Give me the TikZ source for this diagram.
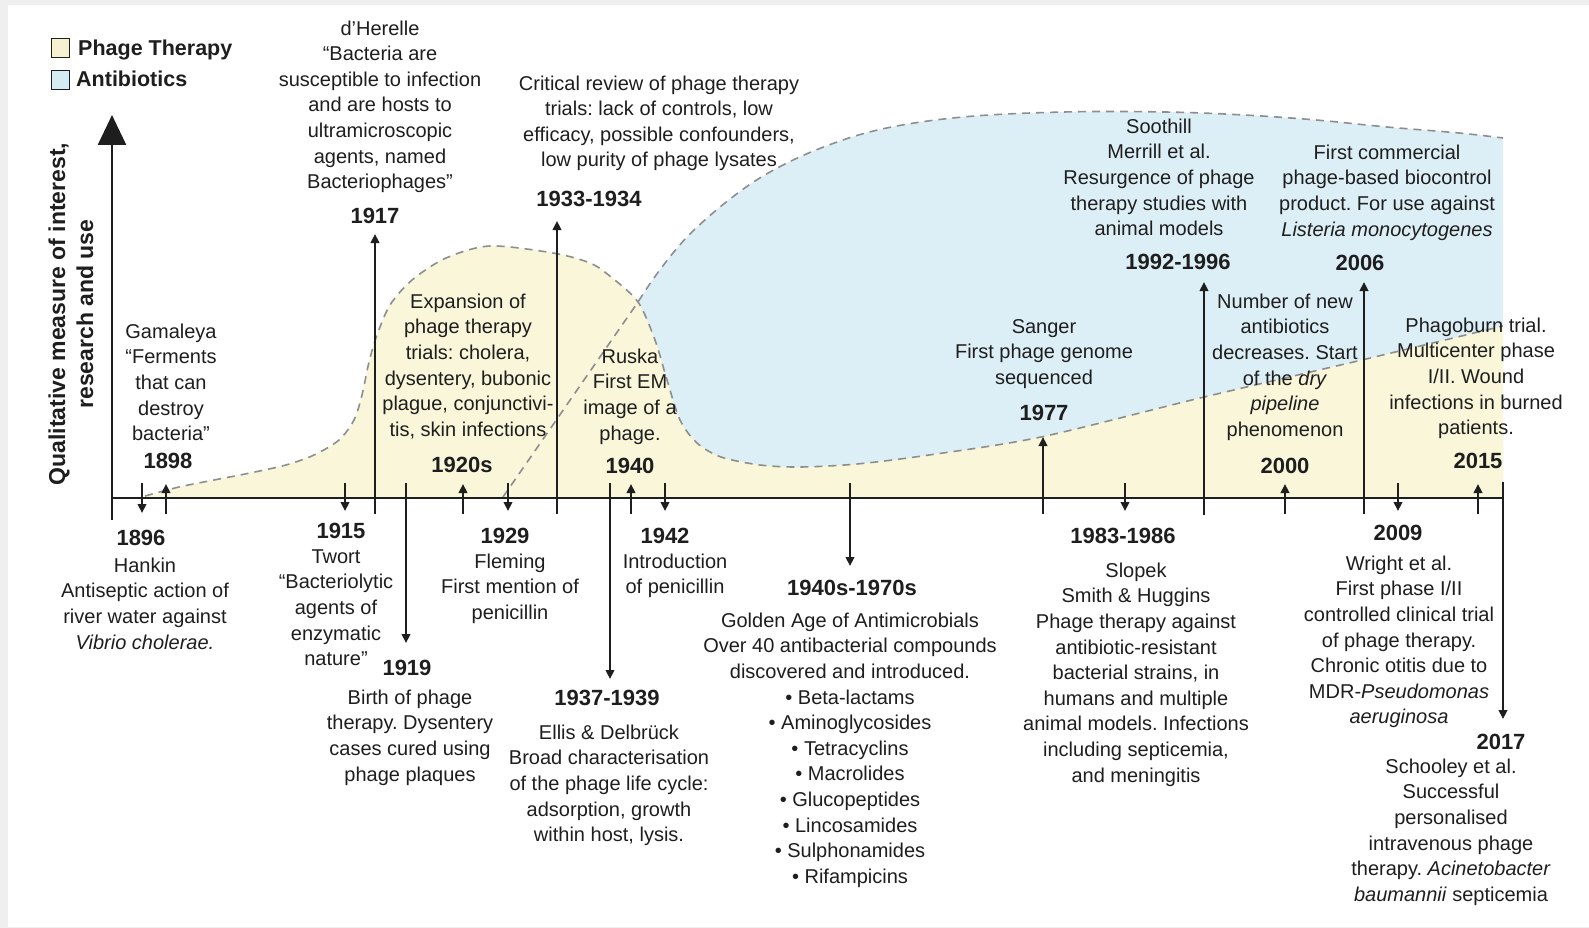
\documentclass[tikz,border=0pt]{standalone}
\usepackage{fontspec}
\setmainfont{Liberation Sans}
\usetikzlibrary{arrows.meta}
\frenchspacing
\definecolor{phagey}{HTML}{F9F6DA}
\definecolor{abblue}{HTML}{DDEFF6}
\definecolor{legy}{HTML}{F6F2CF}
\definecolor{legb}{HTML}{D6ECF5}
\definecolor{dashg}{HTML}{8E8E8E}
\definecolor{ink}{HTML}{1E1E1E}
\definecolor{frameg}{HTML}{EFEFEF}
\newcommand\bodyf{\fontsize{20}{25.6}\selectfont}
\newcommand\yearf{\fontsize{22}{26}\selectfont\bfseries}
\newcommand\legf{\fontsize{21.5}{26}\selectfont\bfseries}
\newcommand\fr{\rule{0pt}{18pt}}
\newcommand\abcurve{(638,302) (659,271) (689,235) (730,199) (770,172) (821,148) (882,129) (963,117) (1064,112) (1165,112) (1244,115) (1316,120) (1387,127) (1459,133) (1503,138)}
\newcommand\ptcurve{(145,496) (179,487) (214,480) (250,473) (286,465) (314,455) (339,440) (354,420) (362,395) (369,362) (377,335) (390,305) (412,280) (446,258) (490,246) (553,253) (590,263) (611,277) (638,302) (655,340) (667,380) (680,420) (697,443) (721,457) (760,465) (800,467) (857,464) (929,455) (1041,437) (1200,398) (1362,360)}
\begin{document}
\begin{tikzpicture}[x=1pt,y=-1pt,
  tx/.style={font=\bodyf, align=center, inner sep=0pt, anchor=north, text=ink},
  yr/.style={font=\yearf, inner sep=0pt, anchor=base, text=ink},
  sarr/.style={draw=ink, line width=2.6pt, -{Triangle[width=8.5pt,length=9pt]}},
  axline/.style={draw=ink, line width=2.6pt},
  dashl/.style={draw=dashg, line width=1.6pt, dash pattern=on 8pt off 6pt},
  legbox/.style={draw=ink, line width=1.6pt, minimum width=18pt, minimum height=19pt, inner sep=0pt}
  ]
\useasboundingbox (0,0) rectangle (1589,928);
\fill[frameg] (0,0) rectangle (1589,928);
\fill[white] (8,5) rectangle (1589,927);

% antibiotics area
\fill[abblue] (503,498) -- (638,302) -- plot[smooth, tension=0.6] coordinates {\abcurve} -- (1503,498) -- cycle;
% phage therapy area
\fill[phagey] (145,498) -- plot[smooth] coordinates {\ptcurve} -- (1503,326) -- (1503,498) -- cycle;
% outlines
\draw[dashl] plot[smooth] coordinates {\ptcurve} -- (1503,326);
\draw[dashl] (503,497) -- (638,302) -- plot[smooth, tension=0.6] coordinates {\abcurve};

% legend
\node[legbox, fill=legy] (lp) at (60.5,48) {};
\node[legbox, fill=legb] (la) at (60.5,80) {};
\node[font=\legf, anchor=base west, inner sep=0pt, text=ink] (lpt) at (78,56) {Phage Therapy};
\node[font=\legf, anchor=base west, inner sep=0pt, text=ink] (lat) at (76,87) {Antibiotics};

% axes
\coordinate (yb) at (112,520);
\coordinate (yt) at (112,115);
\draw[axline, -{Triangle[width=28pt,length=30pt]}] (yb) -- (yt);
\coordinate (xl) at (112,498);
\coordinate (xr) at (1503,498);
\draw[axline] (xl) -- (xr);
\node[font=\fontsize{23}{28}\selectfont\bfseries, align=center, rotate=90, inner sep=0pt, text=ink] (ylab) at (71,314) {Qualitative measure of interest,\\research and use};

% event arrows
\foreach \n/\x/\a/\b in {a1896/142/483/513, a1898/166/514/484, a1915/345/483/511, a1917/375/514/234,
  a1919/406/483/643, a1920/463/514/484, a1929/508/483/511, a1933/557/514/221, a1937/610/483/679,
  a1940/631/514/484, a1942/665/483/511, a1940s/850/483/566, a1977/1043/514/437, a1983/1125/483/511,
  a1992/1204/515/282, a2000/1285/514/484, a2006/1364/514/282, a2009/1398/483/511, a2015/1478/514/484,
  a2017/1503/482/719}{
  \coordinate (\n s) at (\x,\a);
  \coordinate (\n e) at (\x,\b);
  \draw[sarr] (\n s) -- (\n e);
}

% texts above axis
\node[tx] (herelle) at (380,17) {\fr d’Herelle\\“Bacteria are\\susceptible to infection\\and are hosts to\\ultramicroscopic\\agents, named\\Bacteriophages”};
\node[yr] (y1917) at (375,223) {1917};
\node[tx] (critical) at (659,72) {\fr Critical review of phage therapy\\trials: lack of controls, low\\efficacy, possible confounders,\\low purity of phage lysates};
\node[yr] (y1933) at (589,207) {1933-1934};
\node[tx] (soothill) at (1159,115) {\fr Soothill\\Merrill et al.\\Resurgence of phage\\therapy studies with\\animal models};
\node[yr] (y1992) at (1178,269) {1992-1996};
\node[tx] (commercial) at (1387,141) {\fr First commercial\\phage-based biocontrol\\product. For use against\\\textit{Listeria monocytogenes}};
\node[yr] (y2006) at (1360,270) {2006};
\node[tx] (gamaleya) at (171,320) {\fr Gamaleya\\“Ferments\\that can\\destroy\\bacteria”};
\node[yr] (y1898) at (168,468) {1898};
\node[tx] (expansion) at (468,290) {\fr Expansion of\\phage therapy\\trials: cholera,\\dysentery, bubonic\\plague, conjunctivi-\\tis, skin infections};
\node[yr] (y1920) at (462,472) {1920s};
\node[tx] (ruska) at (630,345) {\fr Ruska\\First EM\\image of a\\phage.};
\node[yr] (y1940) at (630,473) {1940};
\node[tx] (sanger) at (1044,315) {\fr Sanger\\First phage genome\\sequenced};
\node[yr] (y1977) at (1044,420) {1977};
\node[tx] (pipeline) at (1285,290) {\fr Number of new\\antibiotics\\decreases. Start\\of the \textit{dry}\\\textit{pipeline}\\phenomenon};
\node[yr] (y2000) at (1285,473) {2000};
\node[tx] (phagoburn) at (1476,314) {\fr Phagoburn trial.\\Multicenter phase\\I/II. Wound\\infections in burned\\patients.};
\node[yr] (y2015) at (1478,468) {2015};

% texts below axis
\node[yr] (y1896) at (141,545) {1896};
\node[tx] (hankin) at (145,554) {\fr Hankin\\Antiseptic action of\\river water against\\\textit{Vibrio cholerae.}};
\node[yr] (y1915) at (341,538) {1915};
\node[tx] (twort) at (336,545) {\fr Twort\\“Bacteriolytic\\agents of\\enzymatic\\nature”};
\node[yr] (y1919) at (407,675) {1919};
\node[tx] (birth) at (410,686) {\fr Birth of phage\\therapy. Dysentery\\cases cured using\\phage plaques};
\node[yr] (y1929) at (505,543) {1929};
\node[tx] (fleming) at (510,550) {\fr Fleming\\First mention of\\penicillin};
\node[yr] (y1942) at (665,543) {1942};
\node[tx] (intro) at (675,550) {\fr Introduction\\of penicillin};
\node[yr] (y1937) at (607,705) {1937-1939};
\node[tx] (ellis) at (609,721) {\fr Ellis \& Delbrück\\Broad characterisation\\of the phage life cycle:\\adsorption, growth\\within host, lysis.};
\node[yr] (y1940s) at (852,595) {1940s-1970s};
\node[tx] (golden) at (850,609) {\fr Golden Age of Antimicrobials\\Over 40 antibacterial compounds\\discovered and introduced.\\• Beta-lactams\\• Aminoglycosides\\• Tetracyclins\\• Macrolides\\• Glucopeptides\\• Lincosamides\\• Sulphonamides\\• Rifampicins};
\node[yr] (y1983) at (1123,543) {1983-1986};
\node[tx] (slopek) at (1136,559) {\fr Slopek\\Smith \& Huggins\\Phage therapy against\\antibiotic-resistant\\bacterial strains, in\\humans and multiple\\animal models. Infections\\including septicemia,\\and meningitis};
\node[yr] (y2009) at (1398,540) {2009};
\node[tx] (wright) at (1399,552) {\fr Wright et al.\\First phase I/II\\controlled clinical trial\\of phage therapy.\\Chronic otitis due to\\MDR-\textit{Pseudomonas}\\\textit{aeruginosa}};
\node[yr] (y2017) at (1501,749) {2017};
\node[tx] (schooley) at (1451,755) {\fr Schooley et al.\\Successful\\personalised\\intravenous phage\\therapy. \textit{Acinetobacter}\\\textit{baumannii} septicemia};
\end{tikzpicture}
\end{document}
